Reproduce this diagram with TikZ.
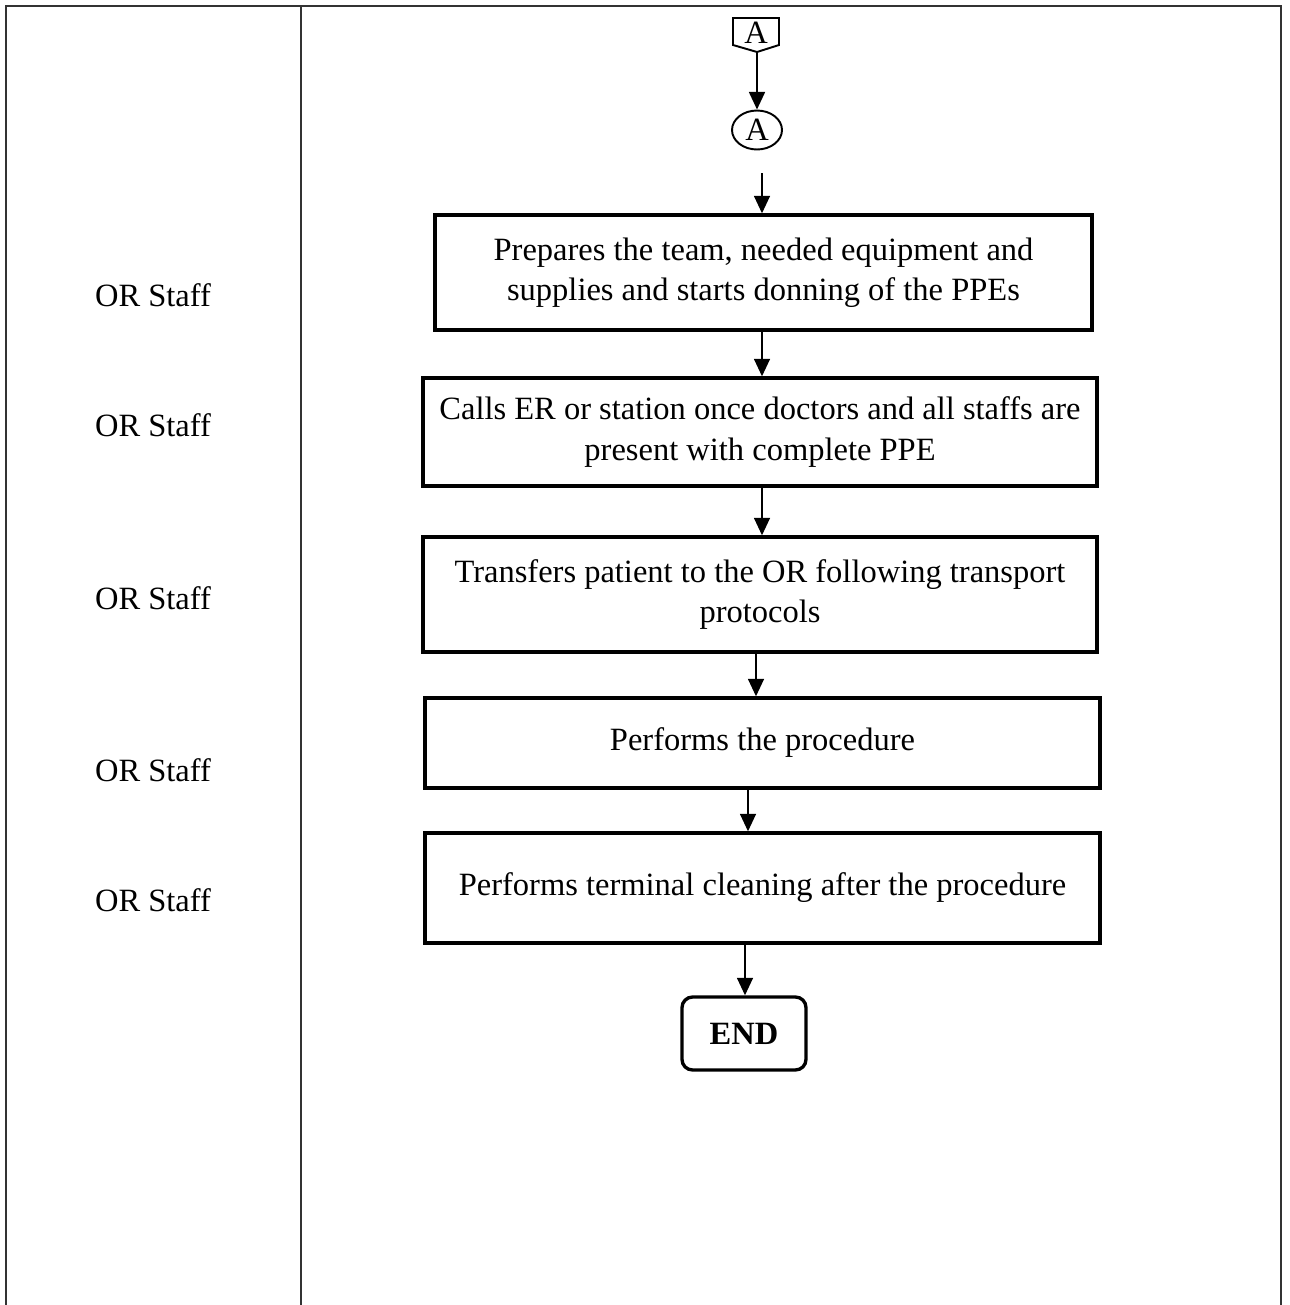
\documentclass[tikz,border=0pt]{standalone}
\usepackage{fontspec}
\setmainfont{Liberation Serif}
\usetikzlibrary{arrows.meta,shapes.geometric}
\newcommand\StepBox[5]{%
    \node[stepbox,minimum width=#3cm,minimum height=#4cm] (#1) at (#2) {#5};
}
\tikzset{
    stepbox/.style={draw,line width=1.9pt,align=center,inner sep=2pt},
    arr/.style={-{Triangle[length=10pt,width=9pt]},line width=1.3pt},
    lane/.style={line width=0.6pt,black!80},
    who/.style={anchor=center}
}

\begin{document}
\begin{tikzpicture}[x=0.02cm,y=-0.02cm,font=\fontsize{18.5}{23}\selectfont]
    \useasboundingbox (0,0) rectangle (1290,1305);
    % table
    \draw[lane] (6,1305) -- (6,6) -- (1281,6) -- (1281,1305);
    \draw[lane] (301,6) -- (301,1305);
    % connectors
    \draw[line width=1.1pt] (733,18) -- (779,18) -- (779,45) -- (757,52) -- (733,45) -- cycle;
    \node (offA) at (756,33) {A};
    \coordinate (offTip) at (757,52);
    \node[draw,ellipse,line width=1.1pt,minimum width=1.0cm,minimum height=0.78cm,inner sep=0pt] (onA) at (757,130) {A};
    % steps
    \StepBox{b1}{763.5,272.5}{13.14}{2.30}{Prepares the team, needed equipment and\\supplies and starts donning of the PPEs}
    \StepBox{b2}{760,432}{13.48}{2.16}{Calls ER or station once doctors and all staffs are\\present with complete PPE}
    \StepBox{b3}{760,594.5}{13.48}{2.30}{Transfers patient to the OR following transport\\protocols}
    \StepBox{b4}{762.5,743}{13.50}{1.80}{Performs the procedure}
    \StepBox{b5}{762.5,888}{13.50}{2.20}{Performs terminal cleaning after the procedure}
    \node[draw,line width=1.9pt,rounded corners=6pt,minimum width=2.48cm,minimum height=1.46cm,font=\fontsize{18.5}{23}\selectfont\bfseries] (end) at (744,1033.5) {END};
    % arrows
    \draw[arr] (offTip) -- (onA.north -| offTip);
    \draw[arr,shorten <=13pt] (onA.south -| 762,0) -- (b1.north -| 762,0);
    \draw[arr] (b1.south -| 762,0) -- (b2.north -| 762,0);
    \draw[arr] (b2.south -| 762,0) -- (b3.north -| 762,0);
    \draw[arr] (b3.south -| 756,0) -- (b4.north -| 756,0);
    \draw[arr] (b4.south -| 748,0) -- (b5.north -| 748,0);
    \draw[arr] (b5.south -| 745,0) -- (end.north -| 745,0);
    % who
    \foreach \y/\n in {295/w1,425/w2,598/w3,770/w4,900/w5}
        \node[who] (\n) at (153,\y) {OR Staff};
\end{tikzpicture}
\end{document}
